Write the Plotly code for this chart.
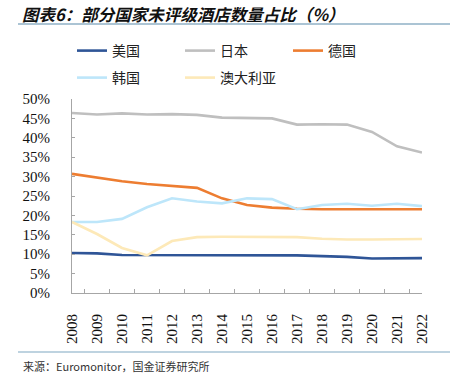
import plotly.graph_objects as go

years = [str(y) for y in range(2008, 2023)]
usa = [10.3, 10.2, 9.8, 9.8, 9.8, 9.8, 9.8, 9.7, 9.7, 9.7, 9.5, 9.3, 8.9, 9.0, 9.0]
japan = [46.4, 46.0, 46.3, 46.0, 46.1, 45.9, 45.2, 45.1, 45.0, 43.4, 43.5, 43.4, 41.5, 37.8, 36.2]
germany = [30.7, 29.7, 28.8, 28.1, 27.6, 27.1, 24.4, 22.7, 22.0, 21.7, 21.6, 21.6, 21.5, 21.6, 21.6]
korea = [18.3, 18.3, 19.1, 22.1, 24.4, 23.6, 23.1, 24.4, 24.2, 21.6, 22.7, 23.0, 22.5, 23.0, 22.4]
australia = [18.3, 15.2, 11.6, 9.7, 13.4, 14.4, 14.5, 14.5, 14.5, 14.4, 14.0, 13.8, 13.8, 13.8, 13.9]

series = [
    ("美国", usa, "#2f5597", "legend"),
    ("日本", japan, "#bfbfbf", "legend"),
    ("德国", germany, "#ed7d31", "legend"),
    ("韩国", korea, "#bde6fa", "legend2"),
    ("澳大利亚", australia, "#fde9b8", "legend2"),
]
yticks = [0, 5, 10, 15, 20, 25, 30, 35, 40, 45, 50]
ytick_text = [f"{v}%" for v in yticks]

title = "图表6：部分国家未评级酒店数量占比（%）"
source = "来源：Euromonitor，国金证券研究所"

W, H = 450, 383
# plot area in page pixels: x 72..422, y 99..293
L, R, T, B = 72, W - 422, 99, H - 293
pw, ph = W - L - R, H - T - B

def px(sx):
    return (sx - L) / pw

def py(sy):
    return (H - B - sy) / ph

fig = go.Figure()
for name, vals, col, lg in series:
    fig.add_trace(go.Scatter(x=years, y=vals, name=name, mode="lines", legend=lg,
                             line=dict(color=col, width=2.6)))

serif = "Liberation Serif, Times New Roman, serif"
cjk = "Noto Sans CJK SC"

leg_common = dict(orientation="h", xanchor="left", yanchor="middle",
                  entrywidth=63, entrywidthmode="pixels",
                  font=dict(family=cjk, size=14, color="#222"),
                  bgcolor="rgba(0,0,0,0)", itemwidth=30)

fig.update_layout(
    width=W, height=H,
    margin=dict(l=L, r=R, t=T, b=B, autoexpand=False),
    paper_bgcolor="white", plot_bgcolor="white",
    showlegend=True,
    legend=dict(x=px(72), y=py(51), **leg_common),
    legend2=dict(x=px(72), y=py(78), **leg_common),
    xaxis=dict(type="category", showline=True, linecolor="#a6a6a6", linewidth=1,
               ticks="inside", ticklen=4, tickcolor="#a6a6a6", tickson="boundaries",
               tickangle=-90, tickfont=dict(family=serif, size=15, color="#111"),
               showgrid=False, zeroline=False, ticklabelstandoff=14, automargin=False),
    yaxis=dict(range=[0, 50], tickvals=yticks, ticktext=ytick_text,
               showline=True, linecolor="#a6a6a6", linewidth=1,
               ticks="inside", ticklen=3, tickcolor="#a6a6a6",
               tickfont=dict(family=serif, size=15, color="#111"),
               showgrid=False, zeroline=False, ticklabelstandoff=18, automargin=False),
)

fig.add_annotation(text="<b><i>" + title + "</i></b>", xref="paper", yref="paper",
                   x=px(20), y=py(14), xanchor="left", yanchor="middle",
                   showarrow=False, font=dict(family=cjk, size=16.5, color="#111"))
fig.add_shape(type="line", xref="paper", yref="paper", x0=px(18), x1=px(450),
              y0=py(24), y1=py(24), line=dict(color="#8fb0c6", width=1.5))
fig.add_shape(type="line", xref="paper", yref="paper", x0=px(18), x1=px(450),
              y0=py(352), y1=py(352), line=dict(color="#a9c4d6", width=1.5))
fig.add_annotation(text=source, xref="paper", yref="paper",
                   x=px(21), y=py(366), xanchor="left", yanchor="middle",
                   showarrow=False, font=dict(family=cjk, size=11, color="#333"))

fig.write_html("out.html", config={"displayModeBar": False},
               post_script="document.body.style.margin='0';document.body.style.overflow='hidden';")
